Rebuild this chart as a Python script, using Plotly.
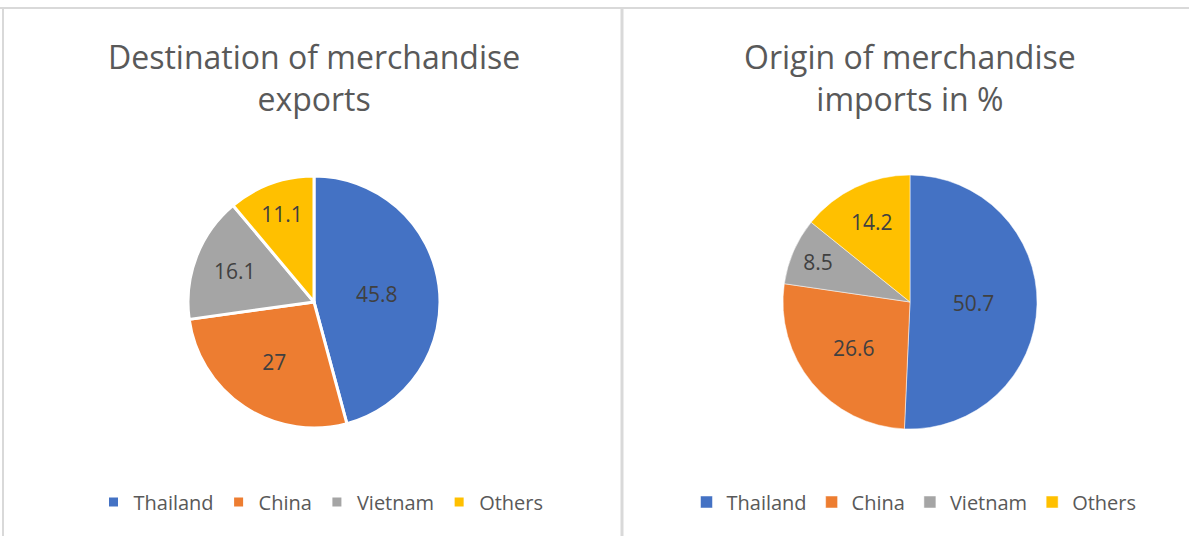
import plotly.graph_objects as go

W, H = 1189, 536

categories = ["Thailand", "China", "Vietnam", "Others"]
exports_share = [45.8, 27, 16.1, 11.1]
imports_share = [50.7, 26.6, 8.5, 14.2]
export_title = "Destination of merchandise<br>exports"
import_title = "Origin of merchandise<br>imports in %"

COLORS = ["#4472C4", "#ED7D31", "#A5A5A5", "#FFC000"]
FONT = "Open Sans"


def px_domain(cx, cy, r):
    # pixel centre/radius (from top-left) -> paper domain
    return dict(x=[(cx - r) / W, (cx + r) / W],
                y=[(H - cy - r) / H, (H - cy + r) / H])


fig = go.Figure()

fig.add_trace(go.Pie(
    labels=categories, values=exports_share,
    text=[str(v) for v in exports_share], textinfo="text",
    sort=False, direction="clockwise", rotation=0,
    marker=dict(colors=COLORS, line=dict(color="white", width=3)),
    textposition="inside", insidetextorientation="horizontal",
    textfont=dict(size=21, color="#404040", family=FONT),
    domain=px_domain(314, 302, 126),
    legend="legend",
    hoverinfo="label+value",
))

# pie legend items are shared by label, so give the second pie its own labels
fig.add_trace(go.Pie(
    labels=[c + "\u200b" for c in categories], values=imports_share,
    text=[str(v) for v in imports_share], textinfo="text",
    sort=False, direction="clockwise", rotation=0,
    marker=dict(colors=COLORS, line=dict(color="white", width=0.5)),
    textposition="inside", insidetextorientation="horizontal",
    textfont=dict(size=21, color="#404040", family=FONT),
    domain=px_domain(910, 302, 127),
    legend="legend2",
    hoverinfo="label+value",
))

legend_style = dict(orientation="h", xanchor="center", yanchor="middle",
                    y=(H - 502) / H, font=dict(size=20, color="#595959", family=FONT),
                    bgcolor="rgba(0,0,0,0)", itemwidth=30, traceorder="normal")

fig.update_layout(
    width=W, height=H,
    margin=dict(l=0, r=0, t=0, b=0),
    paper_bgcolor="white",
    plot_bgcolor="white",
    legend=dict(x=321 / W, **legend_style),
    legend2=dict(x=914 / W, **legend_style),
    annotations=[
        dict(text=export_title, x=314 / W, y=(H - 77) / H, xref="paper", yref="paper",
             showarrow=False, font=dict(size=32, color="#595959", family=FONT),
             xanchor="center", yanchor="middle", align="center"),
        dict(text=import_title, x=910 / W, y=(H - 77) / H, xref="paper", yref="paper",
             showarrow=False, font=dict(size=32, color="#595959", family=FONT),
             xanchor="center", yanchor="middle", align="center"),
    ],
    shapes=[
        dict(type="line", xref="paper", yref="paper", x0=0, x1=1,
             y0=(H - 8) / H, y1=(H - 8) / H, line=dict(color="#D9D9D9", width=2)),
        dict(type="line", xref="paper", yref="paper", x0=3 / W, x1=3 / W,
             y0=0, y1=(H - 8) / H, line=dict(color="#D9D9D9", width=2)),
        dict(type="line", xref="paper", yref="paper", x0=622 / W, x1=622 / W,
             y0=0, y1=(H - 8) / H, line=dict(color="#D9D9D9", width=3)),
    ],
)

fig.write_html("out.html", config={"displayModeBar": False},
               post_script="document.body.style.margin='0';")
